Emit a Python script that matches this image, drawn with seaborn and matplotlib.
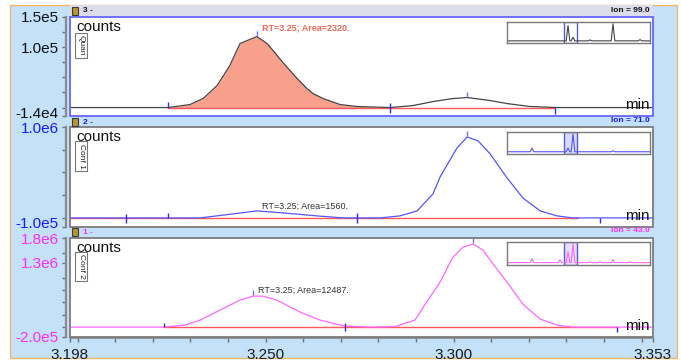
import matplotlib
matplotlib.use('Agg')
import numpy as np
import pandas as pd
import matplotlib.pyplot as plt
from matplotlib.patches import Rectangle
from matplotlib.transforms import ScaledTranslation
import seaborn as sns

# ---------------- data ----------------
x_range = (3.198, 3.353)
x_label_values = [3.198, 3.250, 3.300, 3.353]
x_label_texts = ['3.198', '3.250', '3.300', '3.353']
x_minor_ticks = [3.20, 3.21, 3.22, 3.23, 3.24, 3.26, 3.27, 3.28, 3.29, 3.31, 3.32, 3.33, 3.34, 3.35]

# Quan (Ion 99.0)
quan_time = [3.1980, 3.2140, 3.2241, 3.2299, 3.2334, 3.2371, 3.2405, 3.2432, 3.2451, 3.2477,
             3.2504, 3.2520, 3.2546, 3.2565, 3.2584, 3.2610, 3.2626, 3.2653, 3.2698, 3.2743,
             3.2831, 3.2892, 3.2945, 3.2998, 3.3036, 3.3097, 3.3142, 3.3203, 3.3275, 3.3530]
quan_counts = [0, 0, 0, 5000, 15000, 36400, 69600, 106000, 111000, 117600,
               106000, 94400, 74600, 61300, 48000, 31500, 23200, 14900, 5000, 1700,
               0, 3300, 9900, 14900, 16600, 11600, 6600, 1700, 0, 0]
quan_fill = (3.2241, 3.2831)
quan_baseline = (3.2241, 3.3270)

# Conf 1 (Ion 71.0)
conf1_time = [3.198, 3.2326, 3.2413, 3.2477, 3.2546, 3.2637, 3.2706, 3.2804, 3.2857, 3.2903, 3.2945,
              3.2964, 3.3009, 3.3036, 3.3065, 3.3097, 3.3142, 3.3184, 3.3230, 3.3275, 3.3317, 3.353]
conf1_counts = [0, 0, 44000, 77000, 55000, 22000, 0, 0, 22000, 77000, 264000,
                451000, 770000, 891000, 847000, 704000, 440000, 220000, 77000, 22000, 0, 0]
conf1_baseline = (3.198, 3.3331)

# Conf 2 (Ion 43.0)
conf2_time = [3.198, 3.2230, 3.2286, 3.2326, 3.2379, 3.2432, 3.2467, 3.2493, 3.2530, 3.2592,
              3.2645, 3.2711, 3.2778, 3.2844, 3.2897, 3.2937, 3.2964, 3.2998, 3.3025, 3.3052,
              3.3078, 3.3105, 3.3142, 3.3184, 3.3230, 3.3275, 3.3317, 3.353]
conf2_counts = [0, 0, 40000, 141000, 343000, 545000, 626000, 626000, 545000, 303000,
                141000, 20000, 0, 10000, 141000, 606000, 909000, 1414000, 1616000, 1677000,
                1555000, 1273000, 909000, 465000, 162000, 40000, 0, 0]
conf2_baseline = (3.2230, 3.3434)

# y axis ranges / labels
quan_ylim = (-1.4e4, 1.5e5)
quan_yticks = [1.5e5, 1.0e5, -1.4e4]
quan_ylabels = ['1.5e5', '1.0e5', '-1.4e4']
quan_yminor = [1.25e5, 7.5e4, 5e4, 2.5e4, 0]

conf1_ylim = (-1.0e5, 1.0e6)
conf1_yticks = [1.0e6, -1.0e5]
conf1_ylabels = ['1.0e6', '-1.0e5']
conf1_yminor = [7.5e5, 5e5, 2.5e5, 0]

conf2_ylim = (-2.0e5, 1.8e6)
conf2_yticks = [1.8e6, 1.3e6, -2.0e5]
conf2_ylabels = ['1.8e6', '1.3e6', '-2.0e5']
conf2_yminor = [1.5e6, 1.0e6, 7.5e5, 5e5, 2.5e5, 0]

# peak annotations
quan_note = (3.2490, 1.32e5, 'RT=3.25; Area=2320.')
conf1_note = (3.2490, 1.32e5, 'RT=3.25; Area=1560.')
conf2_note = (3.2480, 7.47e5, 'RT=3.25; Area=12487.')

# integration marks (time) and apex marks (time, value)
quan_marks = [3.2241, 3.2831, 3.3270]
conf1_marks = [3.2129, 3.2241, 3.2742, 3.3389]
conf2_marks = [3.2230, 3.2711, 3.3434]
quan_apex = [(3.2477, 117600), (3.3036, 16600)]
conf1_apex = [(3.3036, 891000)]
conf2_apex = [(3.2467, 626000), (3.3052, 1677000)]

# overview insets: full run
inset_range = (2.51, 4.23)
inset1_rt = [3.244, 3.304, 3.508, 3.785, 4.110]
inset1_h = [0.85, 0.20, 0.05, 0.95, 0.07]
inset2_rt = [2.811, 3.244, 3.304, 3.785]
inset2_h = [0.20, 0.20, 0.95, 0.05]
inset3_rt = [2.811, 3.148, 3.244, 3.304, 3.508, 3.629, 3.785, 3.990]
inset3_h = [0.20, 0.15, 0.55, 0.95, 0.05, 0.05, 0.15, 0.05]

# ---------------- style ----------------
sns.set_theme(style='white')
plt.rcParams['font.family'] = ['Liberation Sans', 'DejaVu Sans']

W, H = 681, 362
fig = plt.figure(figsize=(W / 100, H / 100), dpi=100)
fig.patch.set_facecolor('white')

BG = '#c3e1f8'
ORANGE = '#f2b866'
BLUE = '#1a1aff'
MAG = '#ff2cff'
LINE_BLUE = '#5555ff'
LINE_MAG = '#ff66ff'
RED = '#ff5a5a'
MARK = '#2f2fe8'


def fig_rect(x0, y0, x1, y1, **kw):
    r = Rectangle((x0 / W, 1 - y1 / H), (x1 - x0) / W, (y1 - y0) / H,
                  transform=fig.transFigure, **kw)
    fig.patches.append(r)
    return r


def px_axes(x0, y0, x1, y1):
    return fig.add_axes([x0 / W, 1 - y1 / H, (x1 - x0) / W, (y1 - y0) / H])


def fig_text(x, y, s, **kw):
    fig.text(x / W, 1 - y / H, s, **kw)


# background
fig_rect(10, 5, 677, 358, facecolor=BG, edgecolor=ORANGE, lw=1.0, zorder=-20)
fig_rect(70, 5, 653, 17, facecolor='#dcdcea', edgecolor='none', zorder=-10)

panels = [
    dict(box=(70, 17, 653, 116), t=quan_time, v=quan_counts, lc='#454545', tc='#111111',
         border='#6666ff', ylim=quan_ylim, yt=quan_yticks, yl=quan_ylabels, ym=quan_yminor,
         base=quan_baseline, note=quan_note, ncol='#f06a55', nbold=True, marks=quan_marks,
         apex=quan_apex, tag='Quan', head='3 -', ion='Ion = 99.0', hy=11,
         inset=(507, 22, 650, 43), irt=inset1_rt, ih=inset1_h, ifill='none', lift=4),
    dict(box=(70, 127, 653, 227), t=conf1_time, v=conf1_counts, lc=LINE_BLUE, tc=BLUE,
         border='#7c7c7c', ylim=conf1_ylim, yt=conf1_yticks, yl=conf1_ylabels, ym=conf1_yminor,
         base=conf1_baseline, note=conf1_note, ncol='#333333', nbold=False, marks=conf1_marks,
         apex=conf1_apex, tag='Conf 1', head='2 -', ion='Ion = 71.0', hy=122,
         inset=(507, 132, 650, 154), irt=inset2_rt, ih=inset2_h, ifill='#d6dcff', lift=5),
    dict(box=(70, 238, 653, 337), t=conf2_time, v=conf2_counts, lc=LINE_MAG, tc=MAG,
         border='#7c7c7c', ylim=conf2_ylim, yt=conf2_yticks, yl=conf2_ylabels, ym=conf2_yminor,
         base=conf2_baseline, note=conf2_note, ncol='#333333', nbold=False, marks=conf2_marks,
         apex=conf2_apex, tag='Conf 2', head='1 -', ion='Ion = 43.0', hy=232,
         inset=(507, 242, 650, 265), irt=inset3_rt, ih=inset3_h, ifill='#e6e0ff', lift=0),
]

mark_lengths = [
    [(6, 0), (5, 5), (0, 6)],
    [(4, 5), (5, 0), (5, 5), (0, 5)],
    [(4, 0), (4, 4), (0, 5)],
]

for i, p in enumerate(panels):
    x0, y0, x1, y1 = p['box']
    ax = px_axes(x0, y0, x1, y1)
    ax.set_facecolor('white')
    df = pd.DataFrame({'time': p['t'], 'counts': p['v']})
    t = np.array(p['t'])
    v = np.array(p['v'])
    if i == 0:
        m = (t >= quan_fill[0]) & (t <= quan_fill[1])
        ax.fill_between(t, v, 0, where=m, color='#f9a08c', lw=0, zorder=1)
    ax.plot(list(p['base']), [0, 0], color=RED, lw=1.0, zorder=2)
    sns.lineplot(data=df, x='time', y='counts', ax=ax, color=p['lc'], lw=0.9,
                 estimator=None, sort=False, zorder=3)
    ax.set_xlim(*x_range)
    ax.set_ylim(*p['ylim'])
    ax.set_xlabel('')
    ax.set_ylabel('')

    scale = (p['ylim'][1] - p['ylim'][0]) / ax.bbox.height
    for tm, (u, d) in zip(p['marks'], mark_lengths[i]):
        ax.vlines(tm, -d * scale, u * scale, color=MARK, lw=1.0, zorder=4)
    for tm, val in p['apex']:
        ax.vlines(tm, val + 1 * scale, val + 6 * scale, color='#7070ff', lw=1.0, zorder=4)

    nt, nv, ns = p['note']
    ax.text(nt, nv, ns, color=p['ncol'], fontsize=6.5,
            fontweight='bold' if p['nbold'] else 'normal', va='center', ha='left', zorder=5)

    for s in ax.spines.values():
        s.set_visible(False)
    ax.spines['left'].set_visible(True)
    ax.spines['left'].set_position(('outward', 3))
    ax.spines['left'].set_color('#8a8a8a')
    ax.spines['left'].set_linewidth(1.6)
    ax.add_patch(Rectangle((0, 0), 1, 1, transform=ax.transAxes, fill=False,
                           edgecolor=p['border'], lw=1.3, clip_on=False, zorder=6))

    ax.set_yticks(p['yt'])
    ax.set_yticklabels(p['yl'], color=p['tc'], fontsize=11)
    ax.set_yticks(p['ym'], minor=True)
    ax.tick_params(axis='y', which='both', left=True, direction='out', length=3,
                   color='#707070', width=1, pad=2)
    if p['lift']:
        lab = ax.get_yticklabels()[-1]
        lab.set_transform(lab.get_transform() +
                          ScaledTranslation(0, p['lift'] / 100, fig.dpi_scale_trans))
    if i == 2:
        ax.spines['bottom'].set_visible(True)
        ax.spines['bottom'].set_position(('outward', 1))
        ax.spines['bottom'].set_color('#8a8a8a')
        ax.set_xticks(x_label_values)
        ax.set_xticklabels(x_label_texts, fontsize=11, color='#1a1a1a')
        ax.set_xticks(x_minor_ticks, minor=True)
        ax.tick_params(axis='x', which='both', bottom=True, direction='out', length=3,
                       color='#707070', width=1, pad=4)
    else:
        ax.set_xticks([])

    ax.text(0.011, 0.90, 'counts', transform=ax.transAxes, fontsize=11, color='#111111',
            va='center', ha='left', zorder=7)
    ax.text(0.994, 0.11, 'min', transform=ax.transAxes, fontsize=11, color='#111111',
            va='center', ha='right', zorder=7)
    ax.text(0.019, 0.71, p['tag'], transform=ax.transAxes, fontsize=6, color='#222222',
            rotation=270, va='center', ha='center', zorder=7,
            bbox=dict(boxstyle='square,pad=0.25', facecolor='white', edgecolor='#777777', lw=0.8))

    fig_rect(72, p['hy'] - 4, 78, p['hy'] + 4, facecolor='#b8962e', edgecolor='#3a3a3a', lw=0.8, zorder=3)
    fig_text(83, p['hy'], p['head'], fontsize=6, fontweight='bold', color=p['tc'], va='center', ha='left')
    fig_text(650, p['hy'] - 1, p['ion'], fontsize=6, fontweight='bold', color=p['tc'], va='center', ha='right')

    ix0, iy0, ix1, iy1 = p['inset']
    iax = px_axes(ix0, iy0, ix1, iy1)
    it = [inset_range[0]]
    iv = [0.0]
    for rt, h in zip(p['irt'], p['ih']):
        it += [rt - 0.022, rt, rt + 0.022]
        iv += [0.0, h, 0.0]
    it.append(inset_range[1])
    iv.append(0.0)
    iax.axvspan(x_range[0], x_range[1], facecolor=p['ifill'], edgecolor='#5a5ad8', lw=1.0, zorder=1)
    sns.lineplot(x=it, y=iv, ax=iax, color=p['lc'], lw=0.8, estimator=None, sort=False, zorder=2)
    iax.set_xlim(*inset_range)
    iax.set_ylim(-0.12, 1.05)
    iax.set_xticks([])
    iax.set_yticks([])
    iax.set_facecolor('white')
    for s in iax.spines.values():
        s.set_color('#7a7a7a')
        s.set_linewidth(1.0)

fig.savefig('out.png', dpi=100, facecolor='white')
